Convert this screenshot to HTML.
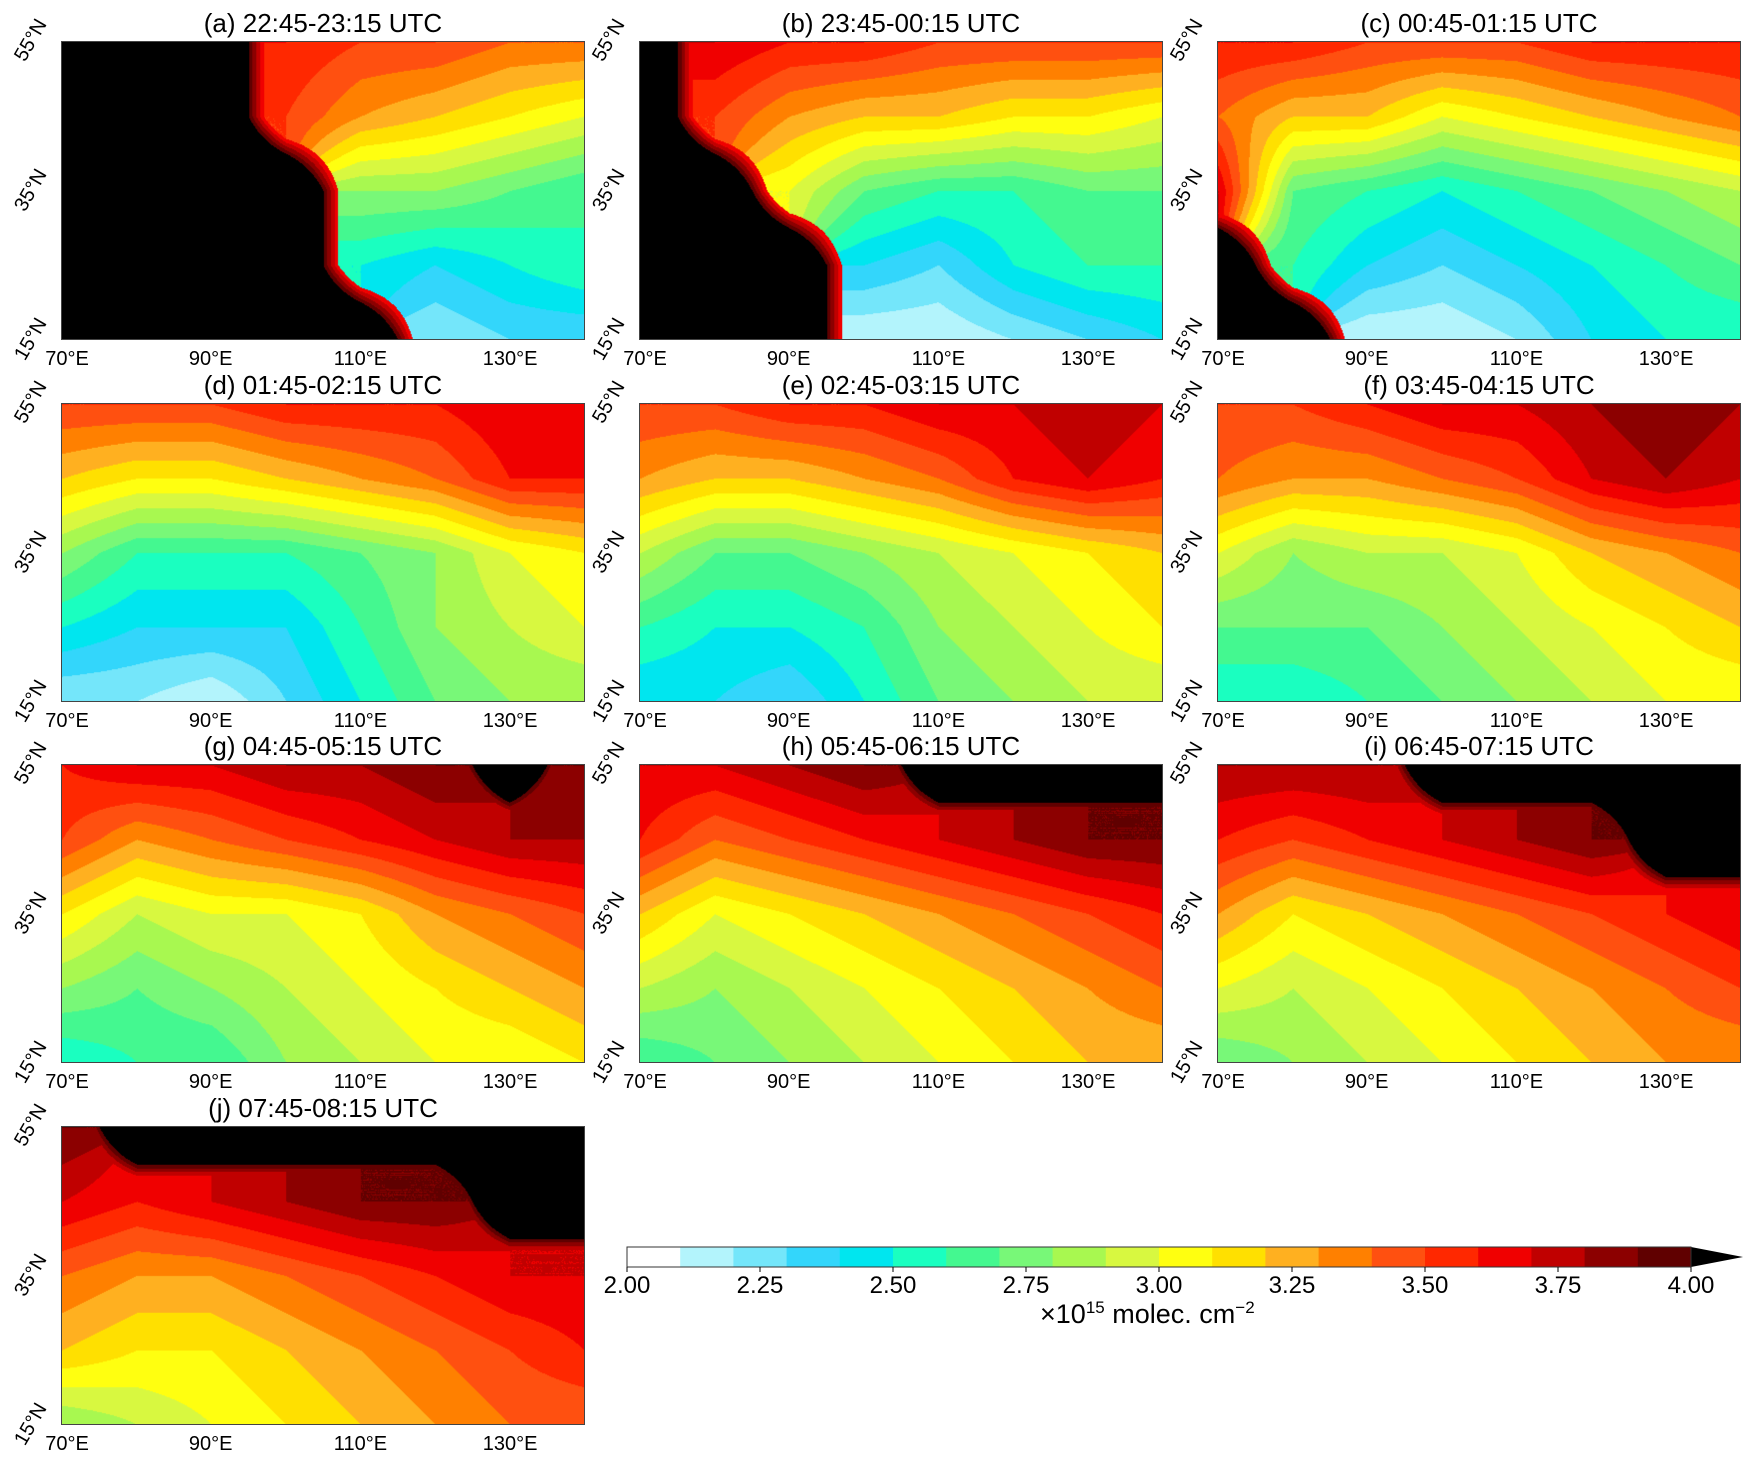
<!DOCTYPE html>
<html><head><meta charset="utf-8">
<style>
body{margin:0;background:#fff;width:1751px;height:1465px;position:relative;overflow:hidden;font-family:"Liberation Sans","DejaVu Sans",sans-serif;}
.t{position:absolute;font-size:26px;color:#000;text-align:center;white-space:nowrap;}
.xt{position:absolute;font-size:20px;transform:translateX(-50%);white-space:nowrap;}
.yt{position:absolute;font-size:20px;transform:rotate(-60deg);transform-origin:center;white-space:nowrap;}
canvas{position:absolute;border:1px solid #444;box-sizing:border-box;}
.cl{position:absolute;font-size:24px;transform:translateX(-50%);top:1272px;}
</style></head><body>
<div id="root"></div>
<svg id="cb" style="position:absolute;left:0;top:0" width="1751" height="1465"></svg>
<div class="t" style="left:1040px;top:1298px;font-size:27px;">×10<sup style="font-size:17px">15</sup> molec. cm<sup style="font-size:17px">−2</sup></div>
<script>
const lons=[70,80,90,100,110,120,130,140];
const lats=[55,45,35,25,15];
const titles=["(a) 22:45-23:15 UTC","(b) 23:45-00:15 UTC","(c) 00:45-01:15 UTC","(d) 01:45-02:15 UTC","(e) 02:45-03:15 UTC","(f) 03:45-04:15 UTC","(g) 04:45-05:15 UTC","(h) 05:45-06:15 UTC","(i) 06:45-07:15 UTC","(j) 07:45-08:15 UTC"];
const panelA=[[9,9,9,3.6,3.5,3.5,3.4,3.4],[9,9,9,3.5,3.3,3.2,3.1,3.0],[9,9,9,9,2.8,2.8,2.7,2.6],[9,9,9,9,2.5,2.4,2.5,2.6],[9,9,9,9,9,2.2,2.3,2.3]];
const panelB=[[9,3.7,3.6,3.6,3.5,3.5,3.5,3.5],[9,3.5,3.3,3.2,3.2,3.1,3.1,3.0],[9,9,3.0,2.7,2.6,2.6,2.7,2.7],[9,9,9,2.4,2.3,2.5,2.6,2.6],[9,9,9,2.1,2.1,2.2,2.3,2.4]];
const panelC=[[3.6,3.6,3.5,3.5,3.5,3.6,3.6,3.6],[3.4,3.2,3.2,3.0,3.1,3.2,3.3,3.4],[3.7,2.7,2.6,2.5,2.6,2.7,2.8,2.9],[9,2.6,2.4,2.3,2.4,2.5,2.6,2.7],[9,9,2.1,2.1,2.2,2.4,2.5,2.5]];
const panelD=[[3.5,3.5,3.5,3.6,3.6,3.6,3.7,3.6],[3.2,3.1,3.1,3.2,3.3,3.4,3.6,3.6],[2.8,2.6,2.6,2.6,2.7,2.8,3.0,3.1],[2.5,2.4,2.4,2.4,2.6,2.8,2.9,3.0],[2.2,2.2,2.1,2.3,2.5,2.7,2.8,2.8]];
const panelE=[[3.5,3.5,3.6,3.6,3.7,3.7,3.8,3.7],[3.3,3.2,3.2,3.3,3.4,3.6,3.7,3.6],[2.9,2.7,2.7,2.8,2.9,3.0,3.1,3.2],[2.6,2.5,2.5,2.6,2.8,2.9,3.0,3.1],[2.4,2.4,2.3,2.5,2.7,2.8,2.9,2.9]];
const panelF=[[3.5,3.5,3.6,3.7,3.7,3.8,3.9,3.8],[3.4,3.3,3.3,3.4,3.5,3.7,3.8,3.7],[3.0,2.8,2.9,2.9,3.0,3.2,3.3,3.4],[2.7,2.7,2.7,2.8,2.9,3.0,3.1,3.2],[2.5,2.5,2.6,2.7,2.8,2.9,3.0,3.0]];
const panelG=[[3.6,3.7,3.7,3.8,3.8,3.9,9,3.9],[3.5,3.3,3.4,3.5,3.6,3.7,3.8,3.8],[3.1,2.9,3.0,3.0,3.1,3.3,3.4,3.5],[2.8,2.7,2.8,2.9,3.0,3.1,3.2,3.3],[2.5,2.6,2.6,2.8,2.9,3.0,3.0,3.1]];
const panelH=[[3.7,3.7,3.8,3.9,9,9,9,9],[3.6,3.4,3.5,3.6,3.7,3.8,3.9,3.9],[3.2,3.0,3.1,3.2,3.3,3.4,3.5,3.6],[2.9,2.8,2.9,3.0,3.1,3.2,3.3,3.4],[2.6,2.7,2.8,2.9,3.0,3.1,3.2,3.2]];
const panelI=[[3.8,3.8,3.8,9,9,9,9,9],[3.6,3.5,3.6,3.7,3.8,3.9,9,9],[3.3,3.1,3.2,3.3,3.4,3.5,3.6,3.7],[3.0,2.9,3.0,3.1,3.2,3.3,3.4,3.5],[2.7,2.8,2.9,3.0,3.1,3.2,3.3,3.3]];
const panelJ=[[3.9,9,9,9,9,9,9,9],[3.7,3.6,3.7,3.8,3.9,3.9,9,9],[3.4,3.3,3.3,3.4,3.5,3.6,3.7,3.7],[3.2,3.1,3.1,3.2,3.3,3.4,3.5,3.6],[2.8,2.9,3.0,3.1,3.2,3.3,3.4,3.4]];
const panels=[panelA,panelB,panelC,panelD,panelE,panelF,panelG,panelH,panelI,panelJ];
const cbColors=["#ffffff","#b3f4fc","#74e6fa","#33d6fb","#00e6ef","#1affc0","#44f890","#78f878","#a8f850","#d8f840","#ffff10","#ffe000","#ffb020","#ff8000","#ff5010","#ff2800","#f00000","#c00000","#8c0000","#600000"];
const cbTicks=["2.00","2.25","2.50","2.75","3.00","3.25","3.50","3.75","4.00"];
const vmin=2.0,vmax=4.0;
const colLeft=[61,639,1217],rowTop=[41,403,764,1126],PW=524,PH=299;
const xTicks=[70,90,110,130];
function hex(c){return[parseInt(c.slice(1,3),16),parseInt(c.slice(3,5),16),parseInt(c.slice(5,7),16)];}
const rgb=cbColors.map(hex);
function colorOf(v){if(v>=vmax)return[0,0,0];let i=Math.floor((v-vmin)/(vmax-vmin)*cbColors.length);if(i<0)i=0;return rgb[i];}
function sample(g,lon,lat){
  let fx=(lon-lons[0])/(lons[1]-lons[0]);let fy=(lats[0]-lat)/(lats[0]-lats[1]);
  fx=Math.max(0,Math.min(lons.length-1.0001,fx));fy=Math.max(0,Math.min(lats.length-1.0001,fy));
  const i=Math.floor(fx),j=Math.floor(fy),a=fx-i,b=fy-j;
  const pts=[[g[j][i],(1-a)*(1-b)],[g[j][i+1],a*(1-b)],[g[j+1][i],(1-a)*b],[g[j+1][i+1],a*b]];
  let mask=0,sw=0,sv=0;
  pts.forEach(([v,w])=>{if(v>=vmax)mask+=w;else{sw+=w;sv+=v*w;}});
  if(mask>0.5||sw===0)return 9;
  let v=sv/sw;
  // thin red fringe approaching the night edge
  if(mask>0.3)v=Math.max(v,3.6+(mask-0.3)*2);
  return v;
}
const root=document.getElementById('root');
panels.forEach((g,k)=>{
  const L=colLeft[k%3],T=rowTop[Math.floor(k/3)];
  const cv=document.createElement('canvas');
  
  
  cv.width=PW;cv.height=PH;cv.style.left=L+'px';cv.style.top=T+'px';cv.style.width=PW+'px';cv.style.height=PH+'px';
  const ctx=cv.getContext('2d');const im=ctx.createImageData(PW,PH);
  for(let y=0;y<PH;y++)for(let x=0;x<PW;x++){
    const lon=70+70*x/PW,lat=55-40*y/PH;
    const c=colorOf(sample(g,lon,lat));const p=(y*PW+x)*4;
    im.data[p]=c[0];im.data[p+1]=c[1];im.data[p+2]=c[2];im.data[p+3]=255;}
  ctx.putImageData(im,0,0);root.appendChild(cv);
  const t=document.createElement('div');t.className='t';t.textContent=titles[k];
  
  
  t.style.left=L+'px';t.style.width=PW+'px';t.style.top=(T-33)+'px';root.appendChild(t);
  xTicks.forEach(v=>{const d=document.createElement('div');d.className='xt';d.textContent=v+'°E';
    
    
    d.style.left=(L+(v-70)/70*PW+(v==70?6:0))+'px';d.style.top=(T+PH+8)+'px';root.appendChild(d);});
  [55,35,15].forEach(v=>{const d=document.createElement('div');d.className='yt';d.textContent=v+'°N';
    
    
    d.style.left=(L-52)+'px';d.style.top=(T+(55-v)/40*PH-12)+'px';root.appendChild(d);});
});
const svg=document.getElementById('cb');const NS='http://www.w3.org/2000/svg';
const cbL=627,cbR=1691,cbT=1247,cbB=1267;
const cx=v=>cbL+(v-vmin)/(vmax-vmin)*(cbR-cbL);
cbColors.forEach((c,i)=>{const r=document.createElementNS(NS,'rect');
  
  
  const v0=vmin+i*(vmax-vmin)/cbColors.length,v1=vmin+(i+1)*(vmax-vmin)/cbColors.length;
  r.setAttribute('x',cx(v0));r.setAttribute('y',cbT);r.setAttribute('width',cx(v1)-cx(v0)+0.5);r.setAttribute('height',cbB-cbT);r.setAttribute('fill',c);svg.appendChild(r);});
const tri=document.createElementNS(NS,'polygon');


tri.setAttribute('points',`${cbR},${cbT} ${cbR+52},${(cbT+cbB)/2} ${cbR},${cbB}`);tri.setAttribute('fill','#000');svg.appendChild(tri);
const fr=document.createElementNS(NS,'rect');


fr.setAttribute('x',cbL);fr.setAttribute('y',cbT);fr.setAttribute('width',cbR-cbL);fr.setAttribute('height',cbB-cbT);fr.setAttribute('fill','none');fr.setAttribute('stroke','#333');svg.appendChild(fr);
cbTicks.forEach(s=>{const x=cx(parseFloat(s));
  const ln=document.createElementNS(NS,'line');
  
  
  ln.setAttribute('x1',x);ln.setAttribute('x2',x);ln.setAttribute('y1',cbB);ln.setAttribute('y2',cbB+5);ln.setAttribute('stroke','#000');svg.appendChild(ln);
  const d=document.createElement('div');d.className='cl';d.textContent=s;
  
  
  d.style.left=x+'px';root.appendChild(d);});
</script>
</body></html>
